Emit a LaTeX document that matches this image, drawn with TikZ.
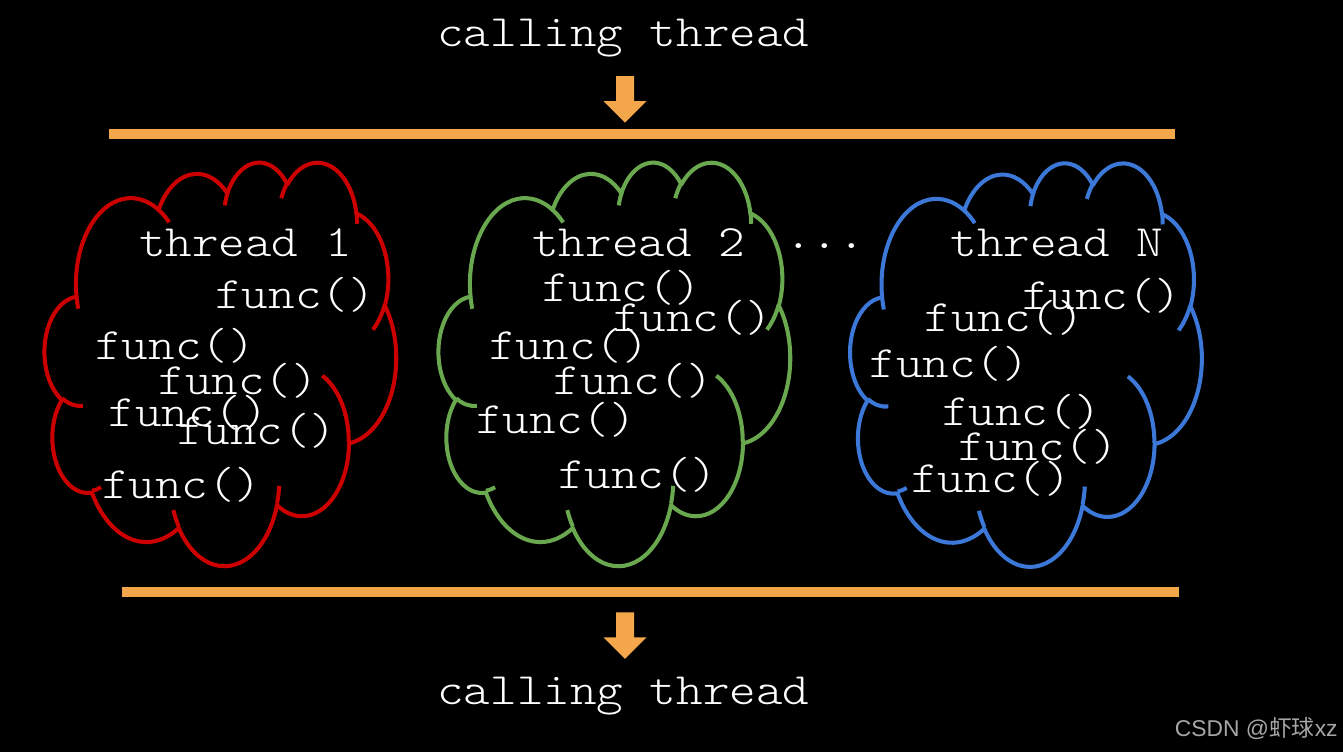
\documentclass[tikz,border=0pt]{standalone}
\usepackage{fontspec}
\usepackage{xcolor}
\usepackage{tikz}
\usetikzlibrary{calc}
\newfontfamily\cour[FakeStretch=1.13]{lmmonolt10-regular.otf}
\newfontfamily\cjk{Noto Sans CJK SC}
\newfontfamily\arial{Liberation Sans}
\definecolor{Bar}{HTML}{F4A64A}
\definecolor{CRed}{HTML}{CC0000}
\definecolor{CGreen}{HTML}{6AA84F}
\definecolor{CBlue}{HTML}{3C78D8}
\definecolor{Mark}{HTML}{A6A6A6}
\newcommand{\lobe}[4]{arc[x radius=#1, y radius=#2, start angle={atan2(#1*sin(#3),#2*cos(#3))}, delta angle={mod(atan2(#1*sin(#3+#4),#2*cos(#3+#4))-atan2(#1*sin(#3),#2*cos(#3))+720,360)}]}

\begin{document}
\begin{tikzpicture}[x=0.02cm, y=-0.02cm, font={\cour\fontsize{25.5}{30}\selectfont}]
\tikzset{txt/.style={text=white, inner sep=0pt, anchor=base west}, cloudline/.style={line width=2.3pt, line join=round}, bar/.style={fill=Bar}}
\fill[black] (0,0) rectangle (1343,752);
\foreach \cx/\cy/\clr in {44.7/161.3/CRed, 438.7/161.3/CGreen, 850.3/162/CBlue}{
\begin{scope}[shift={(\cx,\cy)}, x=1cm, y=1cm, xscale=0.0703, yscale=-0.0807]
\draw[cloudline, draw=\clr] (9.028,33.264) \lobe{15.632}{21.273}{-190.4875}{123.7805} \lobe{12.345}{16.822}{-144.1024}{89.9452} \lobe{10.104}{13.762}{-145.8079}{99.7230} \lobe{11.243}{15.266}{-130.9861}{117.2417} \lobe{12.345}{16.836}{-78.7089}{109.0269} \lobe{15.683}{21.343}{-46.2673}{130.2690} \lobe{13.391}{18.211}{0.6250}{114.0333} \lobe{15.630}{21.331}{22.4516}{115.1726} \lobe{17.870}{24.405}{66.2426}{75.7110} \lobe{10.093}{13.699}{-274.9421}{146.7356} \lobe{10.058}{13.762}{-246.8285}{152.5189} -- cycle;
\draw[cloudline, draw=\clr] (10.863,60.595) \lobe{10.058}{13.762}{86.7420}{26.4295} (16.037,80.785) \lobe{10.093}{13.699}{73.6105}{11.4475} (38.144,90.486) \lobe{15.630}{21.331}{137.6242}{14.0811} (66.729,80.442) \lobe{15.630}{21.331}{6.4533}{15.9984} (79.002,53.134) \lobe{13.391}{18.211}{-70.2924}{70.9174} (96.755,35.542) \lobe{12.345}{16.836}{30.3180}{27.7515} (88.713,12.560) \lobe{11.243}{15.266}{-13.7443}{14.8589} (67.310,9.148) \lobe{11.243}{15.266}{-149.1815}{18.1954} (51.252,10.926) \lobe{10.104}{13.762}{-163.4943}{17.6864} (32.407,12.019) \lobe{15.632}{21.273}{-66.7070}{12.3194} (9.553,36.549) \lobe{15.632}{21.273}{157.6544}{11.8582};
\end{scope}}
\fill[bar] (109,129.3) rectangle (1175,139.3);
\fill[bar] (122,587.3) rectangle (1179.3,596.7);
\foreach \ay in {76,612.3} \fill[bar] (616,\ay) -- ++(18,0) -- ++(0,25) -- ++(12.5,0) -- ++(-21.5,21.5) -- ++(-21.5,-21.5) -- ++(12.5,0) -- cycle;
\node[txt] (top) at (437,46.7) {calling thread};
\node[txt] (bot) at (437,704.3) {calling thread};
\node[txt] (t1) at (138.7,256.7) {thread 1};
\node[txt] (t2) at (532,256) {thread 2};
\node[txt] (tN) at (950.3,256.7) {thread N};
\node[txt] (dots) at (785,248.5) {...};
\foreach \x/\y [count=\i] in {215/308.3, 95/359, 158.3/394.3, 108.3/426, 176.7/444, 101.7/498.3} \node[txt] (fa\i) at (\x,\y) {func()};
\foreach \x/\y [count=\i] in {541.7/301.7, 612.7/331, 489/359, 553.3/394.3, 476/433.3, 557.7/488.3} \node[txt] (fb\i) at (\x,\y) {func()};
\foreach \x/\y [count=\i] in {1021.7/309.3, 924.3/331, 869.3/377.7, 941.7/425, 958.3/460, 911/492.3} \node[txt] (fn\i) at (\x,\y) {func()};
\node[anchor=base east, inner sep=0pt, text=Mark, font={\fontsize{13}{15}\selectfont}] (mark) at (1338,736.7) {\arial CSDN @\cjk 虾球\arial xz};
\end{tikzpicture}
\end{document}
